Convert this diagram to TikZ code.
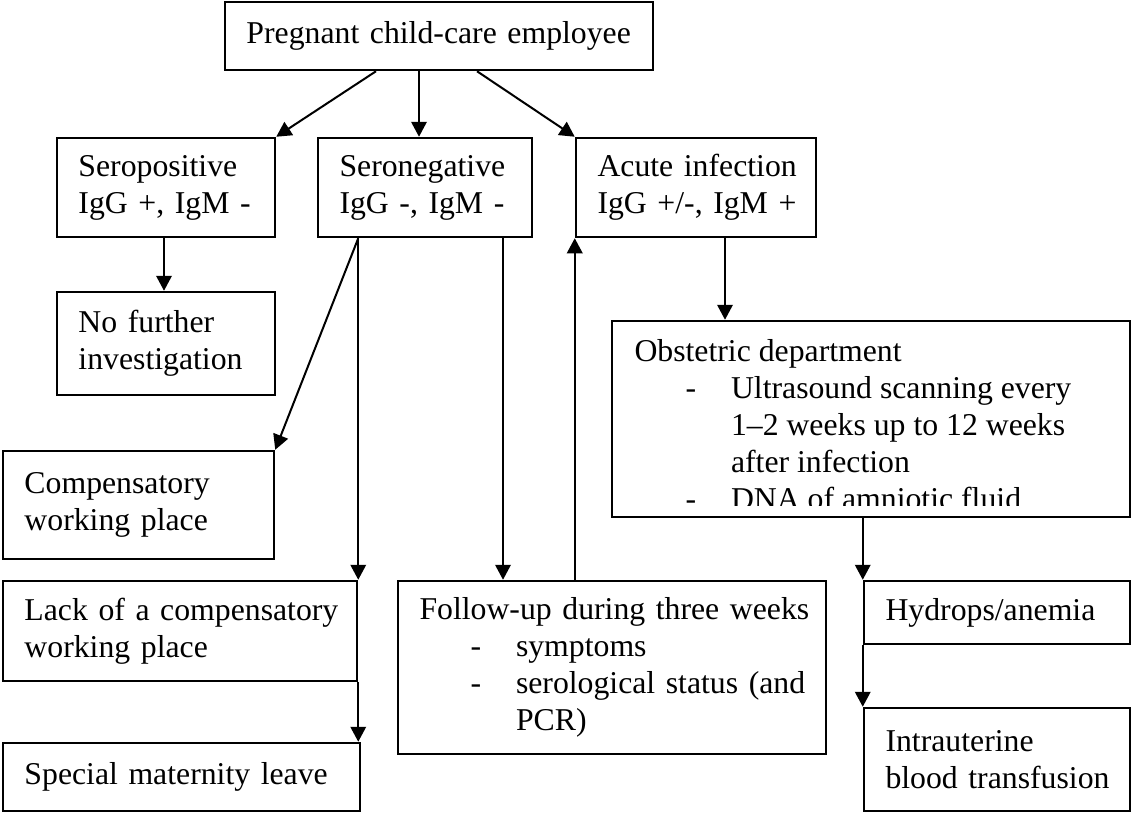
\documentclass[tikz,border=0pt]{standalone}
\usepackage{fontspec}
\setmainfont{Liberation Serif}
\usepackage{tikz}
\usetikzlibrary{arrows.meta}

\newcommand{\listdash}[1]{\hspace*{20.4pt}\makebox[18.2pt][l]{-}#1}
\newcommand{\listcont}[1]{\hspace*{38.6pt}#1}

\begin{document}
\begin{tikzpicture}[x=0.4pt, y=-0.4pt,
    box/.style={draw, line width=1pt, inner xsep=8.6pt, inner ysep=0pt, align=left,
      font=\fontsize{12.7}{14.8}\selectfont},
    arr/.style={line width=0.8pt, -{Triangle[length=6pt, width=6.2pt]}}]
    \path[fill=white] (0,0) rectangle (1133,813);
    \useasboundingbox (0,0) rectangle (1133,813);
    % first row
    \node[box, text width=154pt, minimum width=171.2pt, minimum height=27.2pt] (top) at (439,36)
      {\mbox{Pregnant child-care employee}};
    \node[box, text width=70pt, minimum width=87.2pt, minimum height=39.6pt] (seropos) at (166,187.5)
      {Seropositive\\ \mbox{IgG +, IgM -}};
    \node[box, text width=68.4pt, minimum width=85.6pt, minimum height=39.6pt] (seroneg) at (425,187.5)
      {Seronegative\\ \mbox{IgG -, IgM -}};
    \node[box, text width=78.8pt, minimum width=96pt, minimum height=39.6pt] (acute) at (696,187.5)
      {\mbox{Acute infection}\\ \mbox{IgG +/-, IgM +}};
    % left column
    \node[box, text width=70pt, minimum width=87.2pt, minimum height=41.2pt] (nofurther) at (166,343.5)
      {No further\\ investigation};
    \node[box, text width=91.2pt, minimum width=108.4pt, minimum height=43.2pt] (comp) at (138.5,505)
      {Compensatory\\ working place};
    \node[box, text width=124.4pt, minimum width=141.6pt, minimum height=40pt] (lack) at (180,631)
      {\mbox{Lack of a compensatory}\\ working place};
    \node[box, text width=125.6pt, minimum width=142.8pt, minimum height=27.2pt] (special) at (181.5,777)
      {\mbox{Special maternity leave}};
    % middle
    \node[box, text width=154pt, minimum width=171.2pt, minimum height=69.2pt] (followup) at (612,667.5)
      {\mbox{Follow-up during three weeks}\\
       \listdash{symptoms}\\
       \listdash{\mbox{serological status (and}}\\
       \listcont{PCR)}};
    % right column
    \node[box, minimum width=207.2pt, minimum height=78.4pt] (obst) at (871,419) {};
    \begin{scope}
      \clip (612,321) rectangle (1130,505);
      \node[anchor=north west, inner sep=0pt, align=left,
        font=\fontsize{12.7}{14.75}\selectfont] (obsttext) at (634,339)
        {Obstetric department\\
         \listdash{Ultrasound scanning every}\\
         \listcont{1–2 weeks up to 12 weeks}\\
         \listcont{after infection}\\
         \listdash{DNA of amniotic fluid}};
    \end{scope}
    \node[box, text width=89.2pt, minimum width=106.4pt, minimum height=25.2pt] (hydrops) at (997,612.5)
      {Hydrops/anemia};
    \node[box, text width=89.2pt, minimum width=106.4pt, minimum height=41.2pt] (intra) at (997,759.5)
      {Intrauterine\\ \mbox{blood transfusion}};
    % arrows
    \draw[arr] (top.south -| 376,0) -- (seropos.north east);
    \draw[arr] (top.south -| 419,0) -- (seroneg.north -| 419,0);
    \draw[arr] (top.south -| 477,0) -- (acute.north west);
    \draw[arr] (seropos.south -| 164,0) -- (nofurther.north -| 164,0);
    \draw[arr] (seroneg.south -| lack.north east) -- (comp.north east);
    \draw[arr] (seroneg.south -| lack.north east) -- (lack.north east);
    \draw[arr] (lack.south east) -- (special.north -| lack.south east);
    \draw[arr] (seroneg.south -| 503,0) -- (followup.north -| 503,0);
    \draw[arr] (followup.north -| acute.south west) -- (acute.south west);
    \draw[arr] (acute.south -| 725,0) -- (obst.north -| 725,0);
    \draw[arr] (obst.south -| hydrops.north west) -- (hydrops.north west);
    \draw[arr] (hydrops.south west) -- (intra.north west);
\end{tikzpicture}
\end{document}
